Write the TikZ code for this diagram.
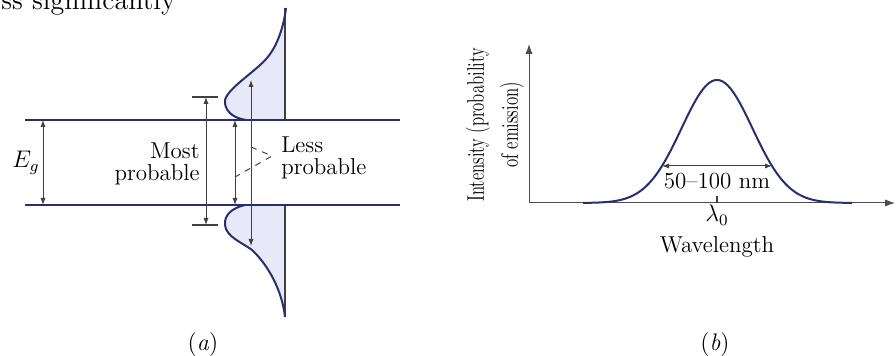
\documentclass[tikz,border=0pt]{standalone}
\usepackage{graphicx}
\usetikzlibrary{arrows.meta, calc}

\definecolor{bandblue}{RGB}{38,48,108}
\definecolor{dosfill}{RGB}{232,232,248}

\begin{document}
\begin{tikzpicture}[
    x=0.5pt, y=-0.5pt,
    band/.style={draw=bandblue, line width=1pt},
    dos/.style={draw=bandblue, line width=1pt},
    vline/.style={draw=black!75, line width=0.6pt},
    dim/.style={{Latex[length=3.5pt,width=2.6pt]}-{Latex[length=3.5pt,width=2.6pt]}, draw=black!75, line width=0.5pt},
    axis/.style={-{Latex[length=5pt,width=3.6pt]}, draw=black!70, line width=0.5pt},
    lbl/.style={font=\fontsize{11.5}{11}\selectfont, inner sep=0pt},
    capt/.style={font=\fontsize{12}{12}\selectfont, inner sep=0pt}
]
    \useasboundingbox (0,0) rectangle (896,356);
    \clip (0,0) rectangle (896,356);

    % page text cut by the top edge
    \node[anchor=base west, font=\fontsize{14}{15}\selectfont, inner sep=0pt] (frag) at (1,10) {ss significantly};

    % (a) band edges and state densities
    \coordinate (cb) at (285,120);
    \coordinate (vb) at (285,205);
    \fill[dosfill] (cb) -- (246,120) .. controls (232,118) and (224,110) .. (225,100)
        .. controls (228,88) and (255,72) .. (267,58) .. controls (278,45) and (284,25) .. (286,8) -- cycle;
    \fill[dosfill] (vb) -- (245,205) .. controls (232,208) and (224,215) .. (225,225)
        .. controls (226,237) and (243,243) .. (252,250) .. controls (268,265) and (282,290) .. (285,317) -- cycle;
    \draw[vline] (285,8) -- (cb);
    \draw[vline] (vb) -- (285,317);
    \draw[dos] (246,120) .. controls (232,118) and (224,110) .. (225,100)
        .. controls (228,88) and (255,72) .. (267,58) .. controls (278,45) and (284,25) .. (286,8);
    \draw[dos] (245,205) .. controls (232,208) and (224,215) .. (225,225)
        .. controls (226,237) and (243,243) .. (252,250) .. controls (268,265) and (282,290) .. (285,317);
    \draw[band] (25,120) -- (400,120);
    \draw[band] (25,205) -- (400,205);

    \coordinate (egtop) at (43,120);
    \coordinate (egbot) at (43,205);
    \draw[dim] (egtop) -- (egbot);
    \node[lbl] (eg) at (26,163) {$E_g$};

    \coordinate (mtop) at (206,97);
    \coordinate (mbot) at (206,225);
    \draw[vline] (192,97) -- (218,97);
    \draw[vline] (192,225) -- (218,225);
    \draw[dim] (mtop) -- (mbot);
    \node[lbl, anchor=east, align=right] (most) at (200,164) {Most\\probable};

    \coordinate (atop) at (235,120);
    \coordinate (abot) at (235,205);
    \coordinate (btop) at (251,80);
    \coordinate (bbot) at (251,246);
    \draw[dim] (atop) -- (abot);
    \draw[dim] (btop) -- (bbot);
    \coordinate (tip) at (272,156);
    \draw[dashed, draw=black!75, line width=0.5pt] (251,147) -- (tip) -- (235,177);
    \node[lbl, anchor=west, align=left] (less) at (281,158) {Less\\probable};

    \node[capt] (capa) at (203,345) {(\textit{a})};

    % (b) emission spectrum
    \coordinate (o) at (529,203);
    \coordinate (ytop) at (529,44);
    \coordinate (xend) at (895,203);
    \draw[axis] (o) -- (ytop);
    \draw[axis] (o) -- (xend);
    \node[lbl, rotate=90, align=center, font=\fontsize{12}{17}\selectfont] (ylab) at (495,125)
        {\scalebox{0.7}[1]{Intensity (probability}\\\scalebox{0.7}[1]{of emission)}};
    \draw[dos] plot[domain=583:852, samples=120, smooth] (\x, {203-123*exp(-((\x-717)/10)^2/25.2)});
    \coordinate (w1) at (662,166);
    \coordinate (w2) at (772,166);
    \draw[dim] (w1) -- (w2);
    \node[lbl] (width) at (717,181) {50--100 nm};
    \coordinate (peak) at (717,203);
    \draw[vline] (peak) -- (717,196);
    \node[lbl] (lam) at (717,215) {$\lambda_0$};
    \node[lbl] (wl) at (717,247) {Wavelength};

    \node[capt] (capb) at (715,345) {(\textit{b})};
\end{tikzpicture}
\end{document}
